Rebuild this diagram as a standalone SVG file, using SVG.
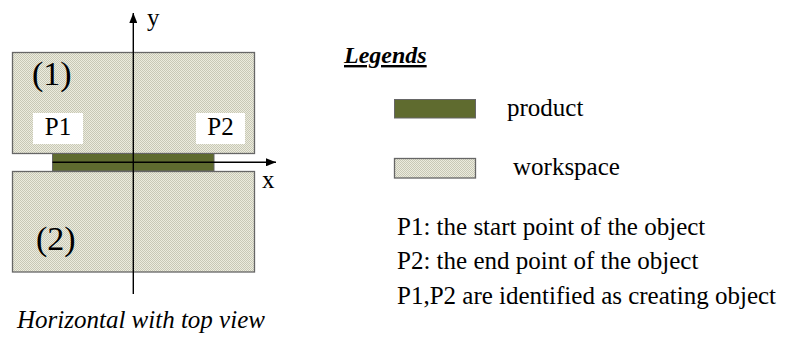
<svg xmlns="http://www.w3.org/2000/svg" width="789" height="338" viewBox="0 0 789 338">
<defs>
<pattern id="ws" width="2" height="2" patternUnits="userSpaceOnUse">
<rect width="2" height="2" fill="#ececde"/>
<rect width="1" height="1" fill="#c8c8b6"/>
<rect x="1" y="1" width="1" height="1" fill="#c8c8b6"/>
</pattern>
<marker id="arr" markerWidth="10" markerHeight="8" refX="10" refY="4" orient="auto" markerUnits="userSpaceOnUse">
<path d="M0,0 L10,4 L0,8 Z" fill="#000"/>
</marker>
<style>
.ws{fill:url(#ws);stroke:#666;stroke-width:1.3}
.pr{fill:#5f6b2f;stroke:#666;stroke-width:1}
.t{font-family:"Liberation Serif","Times New Roman",serif;fill:#000}
.ax{stroke:#000;stroke-width:1.4;fill:none}
</style>
</defs>
<g id="workspace1">
<rect class="ws" x="12.5" y="52.5" width="242" height="101"/>
<text class="t" x="32" y="85" font-size="34">(1)</text>
</g>
<g id="p1">
<rect x="33" y="113" width="50" height="31" fill="#fff"/>
<text class="t" x="58" y="135" font-size="25" text-anchor="middle">P1</text>
</g>
<g id="p2">
<rect x="196" y="113" width="49" height="31" fill="#fff"/>
<text class="t" x="220.5" y="135" font-size="25" text-anchor="middle">P2</text>
</g>
<g id="product">
<rect class="pr" x="52.5" y="153.5" width="161.5" height="17.5"/>
</g>
<g id="workspace2">
<rect class="ws" x="12.5" y="171.5" width="242" height="100.5"/>
<text class="t" x="36" y="250" font-size="34">(2)</text>
</g>
<g id="connectors">
<line class="ax" x1="133.3" y1="294" x2="133.3" y2="13" marker-end="url(#arr)"/>
<line class="ax" x1="52.5" y1="162.3" x2="276" y2="162.3" marker-end="url(#arr)"/>
</g>
<g id="labels">
<text class="t" x="147" y="26" font-size="25">y</text>
<text class="t" x="262" y="188" font-size="25">x</text>
<text class="t" x="17" y="328" font-size="25" font-style="italic">Horizontal with top view</text>
</g>
<g id="legend">
<text class="t" x="344" y="63" font-size="24" font-weight="bold" font-style="italic" text-decoration="underline">Legends</text>
<rect class="pr" x="394.5" y="99.5" width="81" height="18.5"/>
<text class="t" x="507" y="116" font-size="25">product</text>
<rect class="ws" x="394.5" y="158.5" width="81" height="19.5"/>
<text class="t" x="513" y="175" font-size="25">workspace</text>
<text class="t" x="397" y="235" font-size="25">P1: the start point of the object</text>
<text class="t" x="397" y="269" font-size="25">P2: the end point of the object</text>
<text class="t" x="397" y="304" font-size="25">P1,P2 are identified as creating object</text>
</g>
</svg>
